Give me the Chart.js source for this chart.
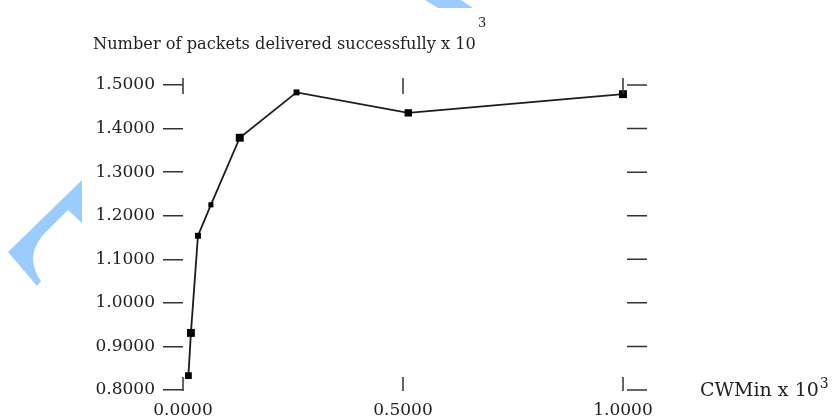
<!DOCTYPE html>
<html>
<head>
<meta charset="utf-8">
<script src="https://cdn.jsdelivr.net/npm/chart.js@4/dist/chart.umd.min.js"></script>
<style>
  html, body { margin: 0; padding: 0; background: #fff; }
</style>
</head>
<body>
<canvas id="chartCanvas" width="837" height="417"></canvas>
<script>
// values (both axes are x 10^3)
const cwMin = [0.0123, 0.018, 0.034, 0.0634, 0.129, 0.258, 0.512, 1.0];
const delivered = [0.833, 0.931, 1.154, 1.225, 1.379, 1.483, 1.436, 1.479];

const xTickValues = [0, 0.5, 1.0];
const xTickLabels = ["0.0000", "0.5000", "1.0000"];
const yTickValues = [0.8, 0.9, 1.0, 1.1, 1.2, 1.3, 1.4, 1.5];
const yTickLabels = ["0.8000", "0.9000", "1.0000", "1.1000", "1.2000", "1.3000", "1.4000", "1.5000"];

const yTitle = "Number of packets delivered successfully x 10";
const xTitle = "CWMin x 10";
const exponent = "3";

const serif = "'DejaVu Serif', serif";
const ink = "#222";

// light blue marks of the page behind the chart
const pageMarks = {
    id: "pageMarks",
    beforeDraw(chart) {
        const ctx = chart.ctx;
        ctx.save();
        ctx.fillStyle = "#fff";
        ctx.fillRect(0, 0, chart.width, chart.height);
        ctx.fillStyle = "#9ccbfd";
        ctx.beginPath();
        ctx.moveTo(425, 0);
        ctx.lineTo(461, 0);
        ctx.lineTo(473, 8);
        ctx.lineTo(438, 8);
        ctx.closePath();
        ctx.fill();
        ctx.beginPath();
        ctx.moveTo(82, 180);
        ctx.lineTo(82, 223);
        ctx.lineTo(68, 210);
        ctx.lineTo(44, 234);
        ctx.quadraticCurveTo(30, 250, 34, 266);
        ctx.quadraticCurveTo(36, 275, 41, 281);
        ctx.lineTo(37, 286);
        ctx.lineTo(8, 252);
        ctx.closePath();
        ctx.fill();
        ctx.restore();
    }
};

// xgraph style frame ticks + axis titles
const frameTicks = {
    id: "frameTicks",
    afterDraw(chart) {
        const { ctx, chartArea: a, scales } = chart;
        ctx.save();
        ctx.strokeStyle = "#333";
        ctx.lineWidth = 1.5;
        ctx.beginPath();
        yTickValues.forEach(v => {
            const y = scales.y.getPixelForValue(v);
            ctx.moveTo(a.right + 4, y);
            ctx.lineTo(a.right + 24, y);
        });
        xTickValues.forEach(v => {
            const x = scales.x.getPixelForValue(v);
            ctx.moveTo(x, a.bottom - 13);
            ctx.lineTo(x, a.bottom + 1);
            ctx.moveTo(x, a.top - 7);
            ctx.lineTo(x, a.top + 9);
        });
        ctx.stroke();

        ctx.fillStyle = ink;
        ctx.textBaseline = "alphabetic";
        ctx.textAlign = "left";
        ctx.font = "16.2px " + serif;
        ctx.fillText(yTitle, 93, 49);
        const tw = ctx.measureText(yTitle).width;
        ctx.font = "13px " + serif;
        ctx.fillText(exponent, 93 + tw + 2, 27);

        ctx.font = "19px " + serif;
        ctx.fillText(xTitle, 700, 396);
        const xw = ctx.measureText(xTitle).width;
        ctx.font = "14px " + serif;
        ctx.fillText(exponent, 700 + xw + 1, 388);
        ctx.restore();
    }
};

new Chart(document.getElementById("chartCanvas"), {
    type: "scatter",
    data: {
        datasets: [{
            data: cwMin.map((x, i) => ({ x, y: delivered[i] })),
            showLine: true,
            borderColor: "#1c1c1c",
            borderWidth: 1.8,
            backgroundColor: "#000",
            pointStyle: "rect",
            pointRadius: [4.8, 5.6, 4.2, 3.6, 5.6, 4.2, 5.2, 5.6],
            pointBorderWidth: 0,
            clip: false,
        }],
    },
    options: {
        responsive: false,
        animation: false,
        layout: { padding: { left: 93, right: 214, top: 85, bottom: 0 } },
        plugins: {
            legend: { display: false },
            tooltip: { enabled: false },
        },
        scales: {
            x: {
                type: "linear",
                min: 0,
                max: 1,
                afterBuildTicks: s => { s.ticks = xTickValues.map(v => ({ value: v })); },
                afterFit: s => { s.height = 27; },
                ticks: {
                    callback: (v, i) => xTickLabels[i],
                    font: { family: serif, size: 17 },
                    color: ink,
                    padding: 2,
                    maxRotation: 0,
                    autoSkip: false,
                },
                grid: { display: false },
                border: { display: false },
            },
            y: {
                min: 0.8,
                max: 1.5,
                afterBuildTicks: s => { s.ticks = yTickValues.map(v => ({ value: v })); },
                afterFit: s => { s.width = 90; },
                ticks: {
                    callback: (v, i) => yTickLabels[i],
                    font: { family: serif, size: 17 },
                    color: ink,
                    padding: 8,
                    autoSkip: false,
                },
                grid: {
                    display: true,
                    drawOnChartArea: false,
                    drawTicks: true,
                    tickLength: 20,
                    color: "#333",
                    lineWidth: 1.5,
                },
                border: { display: false },
            },
        },
    },
    plugins: [pageMarks, frameTicks],
});
</script>
</body>
</html>
